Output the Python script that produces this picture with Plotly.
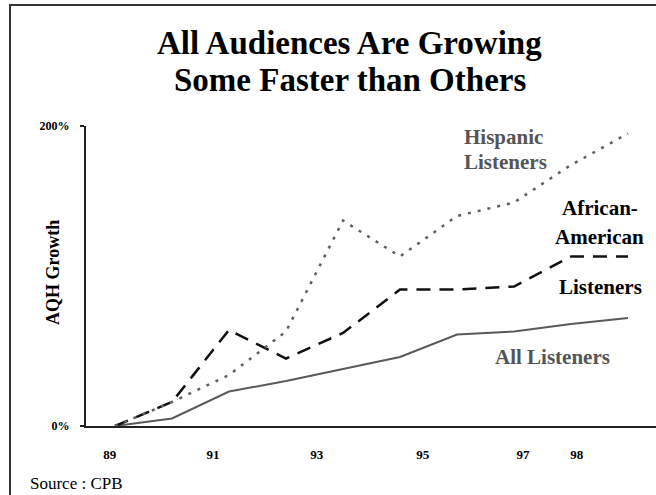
import plotly.graph_objects as go

# Audience growth, percent change in AQH since 1989
years = [89, 90, 91, 92, 93, 94, 95, 96, 97, 98]
hispanic = [0, 16, 34, 63, 137, 113, 140, 149, 174, 195]
african_american = [0, 16, 64, 45, 62, 91, 91, 93, 113, 113]
all_listeners = [0, 5, 23, 30, 38, 46, 61, 63, 68, 72]

x_tick_labels = ["89", "91", "93", "95", "97", "98"]
y_tick_labels = ["0%", "200%"]
y_tick_values = [0, 200]

W, H = 656, 495
L, R, T, B = 86, 0, 126, 69
PW, PH = W - L - R, H - T - B


def px(x):
    return (x - L) / PW


def py(y):
    return (H - B - y) / PH


SERIF = "Liberation Serif"

fig = go.Figure()
fig.add_trace(go.Scatter(x=years, y=all_listeners, mode="lines",
                         line=dict(color="#5a5a5a", width=2),
                         name="All Listeners"))
fig.add_trace(go.Scatter(x=years, y=african_american, mode="lines",
                         line=dict(color="#111111", width=2.5, dash="14px,9px"),
                         name="African-American Listeners"))
fig.add_trace(go.Scatter(x=years, y=hispanic, mode="lines",
                         line=dict(color="#606060", width=2.5, dash="3px,7px"),
                         name="Hispanic Listeners"))

ann = []


def text(s, x, y, size, color="#000000", bold=True, xanchor="left", angle=0):
    ann.append(dict(text=s, x=px(x), y=py(y),
                    xref="paper", yref="paper", xanchor=xanchor, yanchor="middle",
                    showarrow=False, textangle=angle,
                    font=dict(family=SERIF, size=size, color=color,
                              weight="bold" if bold else "normal")))


text("All Audiences Are Growing", 349, 43, 33, xanchor="center")
text("Some Faster than Others", 350, 80, 33, xanchor="center")
text("AQH Growth", 53, 273, 18, xanchor="center", angle=-90)
text("Hispanic", 462, 137, 21, color="#555555")
text("Listeners", 462, 162, 21, color="#555555")
text("African-", 560, 208, 21)
text("American", 553, 237, 21)
text("Listeners", 557, 287, 21)
text("All Listeners", 493, 357, 21, color="#555555")
text("Source : CPB", 28, 483, 17, bold=False)

# outer frame along the top and left edges
shapes = [
    dict(type="line", xref="paper", yref="paper", x0=px(10), x1=px(W + 5),
         y0=py(5), y1=py(5), line=dict(color="#333333", width=2)),
    dict(type="line", xref="paper", yref="paper", x0=px(10), x1=px(10),
         y0=py(4), y1=py(H + 5), line=dict(color="#333333", width=2)),
]

x0 = years[0] - (115 - L) / 57
fig.update_layout(
    width=W, height=H,
    margin=dict(l=L, r=R, t=T, b=B),
    paper_bgcolor="white", plot_bgcolor="white",
    showlegend=False,
    annotations=ann, shapes=shapes,
    xaxis=dict(range=[x0, x0 + PW / 57], showgrid=False, zeroline=False,
               showline=True, linecolor="#222222", linewidth=2,
               tickvals=[88.91, 90.72, 92.54, 94.40, 96.16, 97.10],
               ticktext=x_tick_labels,
               ticks="outside", ticklen=15, tickcolor="rgba(0,0,0,0)",
               tickfont=dict(family=SERIF, size=13, color="#000000",
                             weight="bold")),
    yaxis=dict(range=[0, 200], showgrid=False, zeroline=False,
               showline=True, linecolor="#222222", linewidth=2,
               tickvals=y_tick_values, ticktext=y_tick_labels,
               ticks="outside", ticklen=4, tickcolor="#222222", tickwidth=1.5,
               ticklabelstandoff=8,
               tickfont=dict(family=SERIF, size=12, color="#000000",
                             weight="bold")),
)

fig.write_html("out.html")
